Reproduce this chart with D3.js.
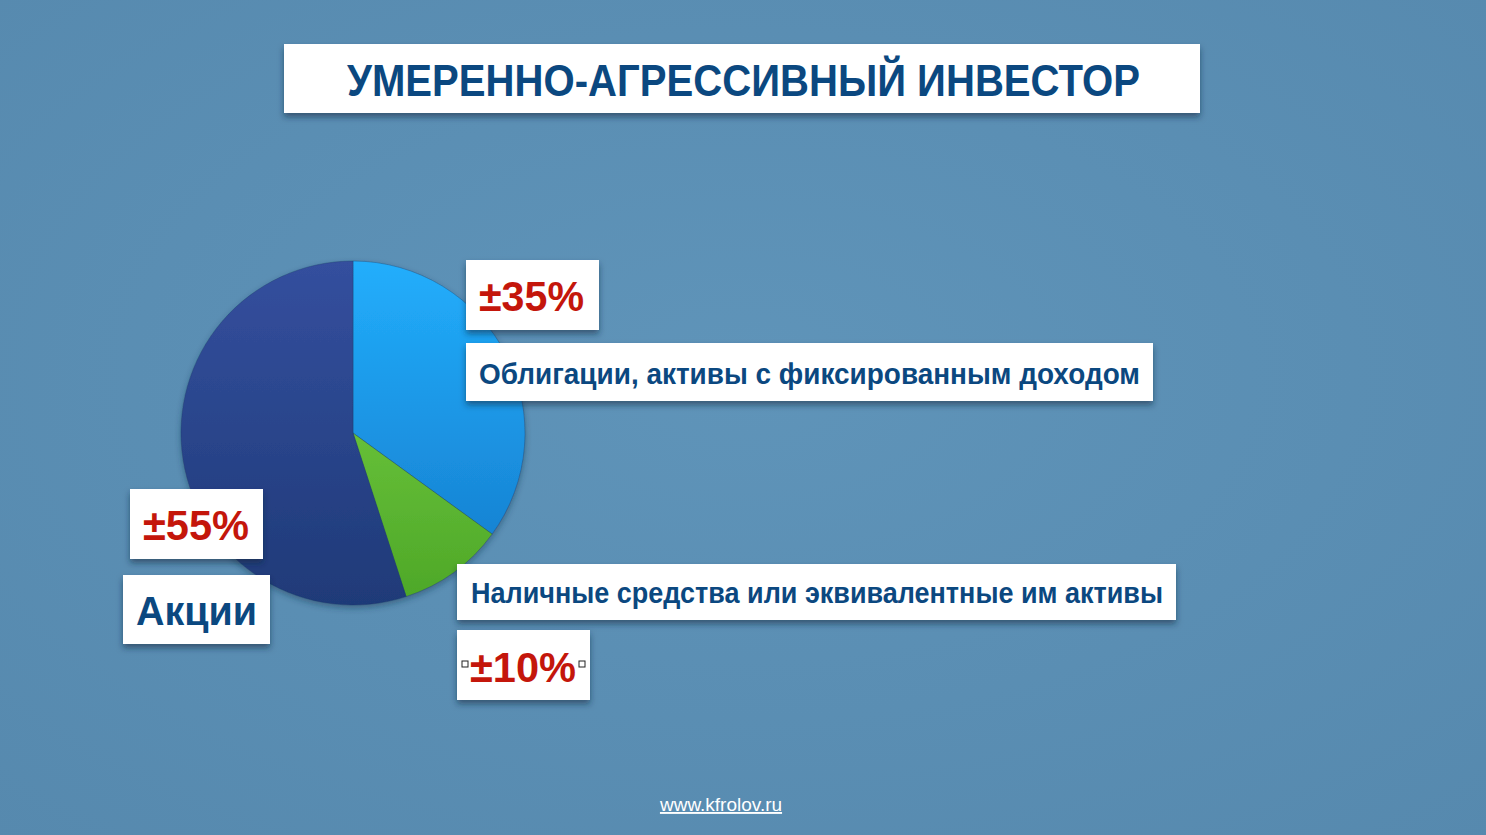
<!DOCTYPE html>
<html><head><meta charset="utf-8">
<script src="https://cdn.jsdelivr.net/npm/d3@7"></script>
<style>html,body{margin:0;padding:0;background:#5b8fb3;overflow:hidden}</style>
</head><body>
<script>
const categories = ["Облигации, активы с фиксированным доходом", "Наличные средства или эквивалентные им активы", "Акции"];
const values = [35, 10, 55];
const valueLabels = ["±35%", "±10%", "±55%"];
const title = "УМЕРЕННО-АГРЕССИВНЫЙ ИНВЕСТОР";
const footer = "www.kfrolov.ru";

const W = 1486, H = 835;
const svg = d3.select("body").append("svg").attr("width", W).attr("height", H);
const defs = svg.append("defs");

const bg = defs.append("radialGradient").attr("id","bg").attr("cx","50%").attr("cy","45%").attr("r","75%");
bg.append("stop").attr("offset","0%").attr("stop-color","#5f94b9");
bg.append("stop").attr("offset","100%").attr("stop-color","#5689ae");
svg.append("rect").attr("width",W).attr("height",H).attr("fill","url(#bg)");

const sh = defs.append("filter").attr("id","sh").attr("x","-10%").attr("y","-20%").attr("width","120%").attr("height","160%");
sh.append("feDropShadow").attr("dx",0).attr("dy",4).attr("stdDeviation",3).attr("flood-color","#0d2a40").attr("flood-opacity",0.55);

const pieSh = defs.append("filter").attr("id","psh").attr("x","-20%").attr("y","-20%").attr("width","140%").attr("height","140%");
pieSh.append("feDropShadow").attr("dx",0).attr("dy",3).attr("stdDeviation",3).attr("flood-color","#1a3550").attr("flood-opacity",0.45);

const grads = [["g0","#22aefc","#1784d4"],["g1","#66bf38","#4ea828"],["g2","#344f9e","#1f3a78"]];
grads.forEach(([id,a,b])=>{
  const g = defs.append("linearGradient").attr("id",id).attr("x1",0).attr("y1",0).attr("x2",0).attr("y2",1);
  g.append("stop").attr("offset","0%").attr("stop-color",a);
  g.append("stop").attr("offset","100%").attr("stop-color",b);
});
const color = d3.scaleOrdinal().domain(categories).range(["url(#g0)","url(#g1)","url(#g2)"]);

// Pie
const cx = 353, cy = 433, R = 172;
const pie = d3.pie().sort(null).value(d=>d.v);
const arc = d3.arc().innerRadius(0).outerRadius(R);
const data = categories.map((c,i)=>({c, v: values[i]}));
const pg = svg.append("g").attr("transform",`translate(${cx},${cy})`).attr("filter","url(#psh)");
pg.selectAll("path").data(pie(data)).join("path")
  .attr("d", arc).attr("fill", d=>color(d.data.c))
  .attr("stroke","#1e3a66").attr("stroke-opacity",0.35).attr("stroke-width",1);

function box(x,y,w,h){
  svg.append("rect").attr("x",x).attr("y",y).attr("width",w).attr("height",h)
    .attr("fill","#ffffff").attr("filter","url(#sh)");
}
function txt(t,x,y,size,fill,len,family){
  const el = svg.append("text").attr("x",x).attr("y",y).text(t)
    .attr("font-family", family || "'Liberation Sans Narrow','Liberation Sans',Arial,sans-serif")
    .attr("font-weight","bold").attr("font-size",size).attr("fill",fill);
  if(len) el.attr("textLength",len).attr("lengthAdjust","spacingAndGlyphs");
  return el;
}
const navy = "#0b4880", red = "#c4160b";
box(284,44,916,69);
txt(title,347,96,44,navy,793);

box(466,260,133,70);
txt(valueLabels[0],479,311,43,red,105);
box(466,343,687,58);
txt(categories[0],479,384,29,navy,661);

box(130,489,133,70);
txt(valueLabels[2],143,540,43,red,106,"'Liberation Sans',Arial,sans-serif");
box(123,575,147,69);
txt(categories[2],136,625,40,navy,121,"'Liberation Sans',Arial,sans-serif");

box(457,564,719,56);
txt(categories[1],471,603,29,navy,692);
box(457,630,133,70);
txt(valueLabels[1],470,682,43,red,106);
[[465,664],[582,664]].forEach(([x,y])=>{
  svg.append("rect").attr("x",x-3).attr("y",y-3).attr("width",6).attr("height",6)
    .attr("fill","#fff").attr("stroke","#222").attr("stroke-width",1);
});

svg.append("text").attr("x",721).attr("y",811).attr("text-anchor","middle")
  .attr("font-family","'Liberation Sans',Arial,sans-serif").attr("font-size",19)
  .attr("fill","#ffffff").attr("text-decoration","underline").text(footer);
</script>
</body></html>
